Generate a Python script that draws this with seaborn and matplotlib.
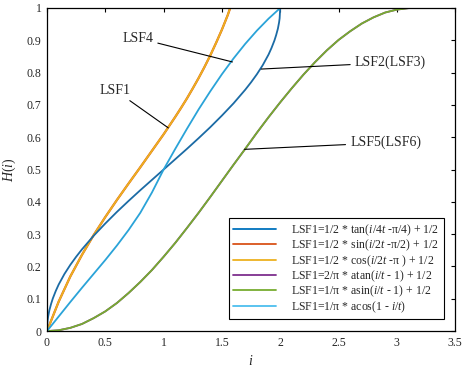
import numpy as np
import pandas as pd
import matplotlib
matplotlib.use('Agg')
import matplotlib.pyplot as plt
import seaborn as sns
from matplotlib.lines import Line2D

# ─── DATA ──────────────────────────────────────────────────────────────────
# curve 1: steep at both ends, passes (1, 0.5), ends at (2, 1)
x_arc = [0, 0.005, 0.01, 0.02, 0.035, 0.05, 0.075, 0.1, 0.15, 0.2, 0.25, 0.3, 0.4, 0.5, 0.6,
         0.7, 0.8, 0.9, 1.0, 1.1, 1.2, 1.3, 1.4, 1.5, 1.6, 1.7, 1.75, 1.8, 1.85, 1.9, 1.925,
         1.95, 1.965, 1.98, 1.99, 1.995, 2.0]
y_arc = [0, 0.032, 0.045, 0.064, 0.084, 0.101, 0.124, 0.144, 0.177, 0.205, 0.230, 0.253,
         0.295, 0.333, 0.369, 0.403, 0.436, 0.468, 0.5, 0.532, 0.564, 0.597, 0.631, 0.667,
         0.705, 0.747, 0.770, 0.795, 0.823, 0.856, 0.876, 0.899, 0.916, 0.936, 0.955, 0.968, 1.0]

# curve 2: tan-like, ends at (pi/2, 1)
x_tan = [0, 0.1, 0.2, 0.3, 0.4, 0.5, 0.6, 0.7, 0.8, 0.9, 1.0, 1.1, 1.15, 1.2, 1.25, 1.3,
         1.35, 1.4, 1.45, 1.5, 1.55, 1.571]
y_tan = [0, 0.091, 0.169, 0.236, 0.297, 0.353, 0.406, 0.457, 0.507, 0.558, 0.609, 0.663,
         0.691, 0.720, 0.751, 0.783, 0.817, 0.853, 0.892, 0.933, 0.978, 1.0]

# curve 3: near-straight line from (0, 0) to (2, 1)
x_lin = [0, 0.1, 0.2, 0.3, 0.4, 0.5, 0.6, 0.7, 0.8, 0.9, 1.0,
         1.1, 1.2, 1.3, 1.4, 1.5, 1.6, 1.7, 1.8, 1.9, 2.0]
y_lin = [0, 0.045, 0.090, 0.134, 0.177, 0.220, 0.265, 0.313, 0.366, 0.429, 0.5,
         0.564, 0.626, 0.686, 0.742, 0.795, 0.844, 0.889, 0.930, 0.967, 1.0]

# curve 4: S-shape from (0, 0) to (pi, 1)
x_s = [0, 0.1, 0.2, 0.3, 0.4, 0.5, 0.6, 0.7, 0.8, 0.9, 1.0, 1.1, 1.2, 1.3, 1.4, 1.5, 1.6,
       1.7, 1.8, 1.9, 2.0, 2.1, 2.2, 2.3, 2.4, 2.5, 2.6, 2.7, 2.8, 2.9, 3.0, 3.1, 3.1416]
y_s = [0, 0.0025, 0.010, 0.022, 0.040, 0.061, 0.087, 0.118, 0.152, 0.189, 0.230, 0.273,
       0.319, 0.366, 0.415, 0.465, 0.515, 0.564, 0.614, 0.662, 0.708, 0.752, 0.794, 0.833,
       0.869, 0.901, 0.928, 0.952, 0.971, 0.986, 0.995, 0.9996, 1.0]

legend_labels = [
    'LSF1=1/2 * tan($i$/4$t$ -π/4) + 1/2',
    'LSF1=1/2 * sin($i$/2$t$ -π/2) + 1/2',
    'LSF1=1/2 * cos($i$/2$t$ -π ) + 1/2',
    'LSF1=2/π * atan($i$/$t$ - 1) + 1/2',
    'LSF1=1/π * asin($i$/$t$ - 1) + 1/2',
    'LSF1=1/π * acos(1 - $i$/$t$)',
]
legend_colors = ['#0072BD', '#D95319', '#EDB120', '#7E2F8E', '#77AC30', '#4DBEEE']

x_ticks = [0, 0.5, 1, 1.5, 2, 2.5, 3, 3.5]
x_tick_labels = ['0', '0.5', '1', '1.5', '2', '2.5', '3', '3.5']
y_ticks = [0, 0.1, 0.2, 0.3, 0.4, 0.5, 0.6, 0.7, 0.8, 0.9, 1]
y_tick_labels = ['0', '0.1', '0.2', '0.3', '0.4', '0.5', '0.6', '0.7', '0.8', '0.9', '1']

# ─── STYLE ────────────────────────────────────────────────────────────────
sns.set_theme(style='white')
plt.rcParams['font.family'] = ['Liberation Serif', 'DejaVu Serif']
plt.rcParams['mathtext.fontset'] = 'custom'
plt.rcParams['mathtext.rm'] = 'Liberation Serif'
plt.rcParams['mathtext.it'] = 'Liberation Serif:italic'

fig = plt.figure(figsize=(4.63, 3.72), dpi=100)
ax = fig.add_axes([0.1015, 0.110, 0.8815, 0.8685])

# ─── CURVES ───────────────────────────────────────────────────────────────
lw = 1.3
sns.lineplot(x=x_tan, y=y_tan, ax=ax, color='#D95319', lw=lw + 0.3, sort=False, estimator=None)
sns.lineplot(x=x_tan, y=y_tan, ax=ax, color='#EDB120', lw=lw, sort=False, estimator=None)
sns.lineplot(x=x_s, y=y_s, ax=ax, color='#7E2F8E', lw=lw, sort=False, estimator=None)
sns.lineplot(x=x_s, y=y_s, ax=ax, color='#77AC30', lw=lw, sort=False, estimator=None)
sns.lineplot(x=x_arc, y=y_arc, ax=ax, color='#1B6BA5', lw=lw, sort=False, estimator=None)
sns.lineplot(x=x_lin, y=y_lin, ax=ax, color='#2AA3D8', lw=lw, sort=False, estimator=None)

# ─── ANNOTATIONS ──────────────────────────────────────────────────────────
arrow = dict(arrowstyle='-', color='black', lw=0.8, shrinkA=1, shrinkB=0)
ax.annotate('LSF4', xy=(1.59, 0.833), xytext=(0.778, 0.907), fontsize=10,
            ha='center', va='center', arrowprops=arrow)
ax.annotate('LSF1', xy=(1.04, 0.629), xytext=(0.582, 0.746), fontsize=10,
            ha='center', va='center', arrowprops=arrow)
ax.annotate('LSF2(LSF3)', xy=(1.837, 0.811), xytext=(2.64, 0.831), fontsize=10,
            ha='left', va='center', arrowprops=arrow)
ax.annotate('LSF5(LSF6)', xy=(1.694, 0.5625), xytext=(2.60, 0.583), fontsize=10,
            ha='left', va='center', arrowprops=arrow)

# ─── AXES ─────────────────────────────────────────────────────────────────
ax.set_xlim(0, 3.5)
ax.set_ylim(0, 1)
ax.set_xticks(x_ticks)
ax.set_xticklabels(x_tick_labels, fontsize=8.5)
ax.set_yticks(y_ticks)
ax.set_yticklabels(y_tick_labels, fontsize=8.5)
ax.tick_params(direction='in', top=True, right=True, length=3, width=0.8,
               color='black', pad=4)
for s in ax.spines.values():
    s.set_color('black')
    s.set_linewidth(0.9)
ax.set_xlabel('$i$', fontsize=10, labelpad=4)
ax.set_ylabel('$H$($i$)', fontsize=10, labelpad=6)

handles = [Line2D([0], [0], color=c, lw=1.3) for c in legend_colors]
leg = ax.legend(handles, legend_labels, loc='lower right', bbox_to_anchor=(0.973, 0.036),
                borderaxespad=0, fontsize=8.5, frameon=True, fancybox=False, framealpha=1,
                handlelength=3.6, handletextpad=1.3, labelspacing=0.0, borderpad=0.4)
leg.get_frame().set_edgecolor('black')
leg.get_frame().set_linewidth(0.8)

fig.savefig('out.png', dpi=100)
